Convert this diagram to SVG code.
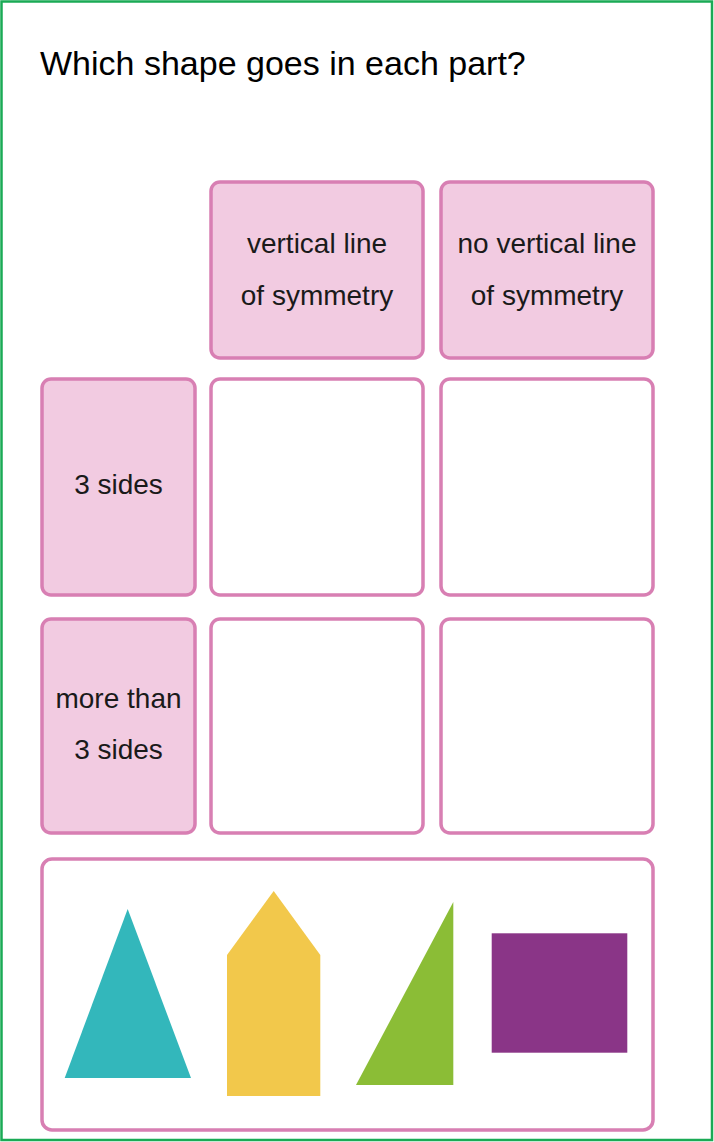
<svg xmlns="http://www.w3.org/2000/svg" width="714" height="1142" viewBox="0 0 714 1142">
<style>
.frame{fill:#ffffff;stroke:#1aaa55;stroke-width:2.5}
.hdr{fill:#f2cbe1;stroke:#d87fb3;stroke-width:3.5}
.cell{fill:#ffffff;stroke:#d87fb3;stroke-width:3.5}
.lbl{font-family:"Liberation Sans",Arial,sans-serif;font-size:28px;fill:#1a1a1a;text-anchor:middle}
.title{font-family:"Liberation Sans",Arial,sans-serif;font-size:34px;fill:#000000}
</style>
<rect class="frame" x="1.5" y="1.5" width="710.5" height="1138.5"/>
<text class="title" x="40" y="75">Which shape goes in each part?</text>
<g id="header-vertical">
<rect class="hdr" x="211" y="182" width="212" height="176" rx="9"/>
<text class="lbl" x="317" y="253">vertical line</text>
<text class="lbl" x="317" y="305">of symmetry</text>
</g>
<g id="header-no-vertical">
<rect class="hdr" x="441" y="182" width="212" height="176" rx="9"/>
<text class="lbl" x="547" y="253">no vertical line</text>
<text class="lbl" x="547" y="305">of symmetry</text>
</g>
<g id="row-3-sides">
<rect class="hdr" x="42" y="379" width="153" height="216" rx="9"/>
<text class="lbl" x="118.5" y="494">3 sides</text>
</g>
<g id="row-more-than-3">
<rect class="hdr" x="42" y="619" width="153" height="214" rx="9"/>
<text class="lbl" x="118.5" y="708">more than</text>
<text class="lbl" x="118.5" y="759">3 sides</text>
</g>
<g id="cell-r1c1"><rect class="cell" x="211" y="379" width="212" height="216" rx="9"/></g>
<g id="cell-r1c2"><rect class="cell" x="441" y="379" width="212" height="216" rx="9"/></g>
<g id="cell-r2c1"><rect class="cell" x="211" y="619" width="212" height="214" rx="9"/></g>
<g id="cell-r2c2"><rect class="cell" x="441" y="619" width="212" height="214" rx="9"/></g>
<g id="shapes-box">
<rect class="cell" x="42" y="859" width="611" height="271" rx="10"/>
<polygon points="127.7,909 191,1078 64.7,1078" fill="#33b7bb"/>
<polygon points="273.7,891 320.3,955 320.3,1096 227,1096 227,955" fill="#f2c84b"/>
<polygon points="453.3,902 453.3,1085 356,1085" fill="#8bbd36"/>
<rect x="491.7" y="933.3" width="135.6" height="119.4" fill="#8a3587"/>
</g>
<g id="connectors"/>
</svg>
